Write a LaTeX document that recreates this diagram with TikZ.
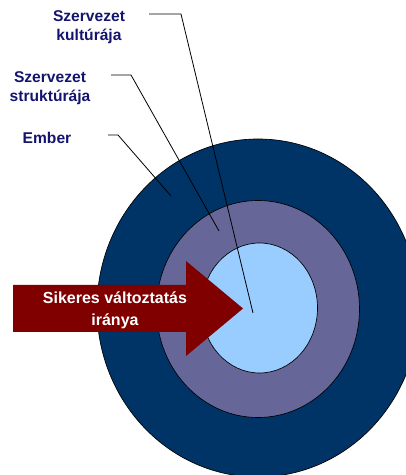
\documentclass[tikz,border=0pt]{standalone}
\usepackage{fontspec}
\setmainfont{Liberation Sans}
\usepackage{tikz}
\usetikzlibrary{shapes.geometric}
\usepackage{xcolor}
\definecolor{outernavy}{RGB}{0,51,102}
\definecolor{midviolet}{RGB}{102,102,153}
\definecolor{innersky}{RGB}{153,204,255}
\definecolor{arrowred}{RGB}{128,0,0}
\definecolor{labelnavy}{RGB}{20,20,110}
\tikzset{
  ring/.style={ellipse,draw=black,line width=0.5pt,inner sep=0pt},
  layerlabel/.style={align=center,inner sep=0pt,text=labelnavy,
    font=\fontsize{11.7}{14.5}\selectfont\bfseries},
  arrowtext/.style={align=center,inner sep=0pt,text=white,
    font=\fontsize{12}{16.5}\selectfont\bfseries},
  leader/.style={line width=0.6pt,draw=black}
}
\begin{document}
\begin{tikzpicture}[x=0.75pt,y=0.75pt]
  \useasboundingbox (0,0) rectangle (406,475);
  \clip (0,0) rectangle (406,475);
  % nested layers
  \node[ring,fill=outernavy,minimum width=241.5pt,minimum height=253.5pt] (ember) at (258,167) {};
  \node[ring,fill=midviolet,minimum width=152.25pt,minimum height=162.75pt] (struktura) at (258,166) {};
  \node[ring,fill=innersky,minimum width=87pt,minimum height=97.5pt] (kultura) at (259.5,167) {};
  % labels
  \node[layerlabel] (lkultura) at (89,448) {Szervezet\\kultúrája};
  \node[layerlabel] (lstruktura) at (50,387) {Szervezet\\struktúrája};
  \node[layerlabel] (lember) at (47,337) {Ember};
  \coordinate (kulturastart) at (149,461);
  \coordinate (kulturabend) at (181,461);
  \coordinate (kulturaend) at (253,162);
  \coordinate (strukturastart) at (111,400);
  \coordinate (strukturabend) at (131,400);
  \coordinate (strukturaend) at (219,244);
  \coordinate (emberstart) at (108,340);
  \coordinate (emberbend) at (118,340);
  \coordinate (emberend) at (171,279);
  \draw[leader] (kulturastart) -- (kulturabend) -- (kulturaend);
  \draw[leader] (strukturastart) -- (strukturabend) -- (strukturaend);
  \draw[leader] (emberstart) -- (emberbend) -- (emberend);
  % direction of change
  \fill[arrowred] (13,190) -- (186,190) -- (186,214) -- (243,166.5)
    -- (186,119) -- (186,143) -- (13,143) -- cycle;
  \node[arrowtext] (irany) at (115,165) {Sikeres változtatás\\iránya};
\end{tikzpicture}
\end{document}
